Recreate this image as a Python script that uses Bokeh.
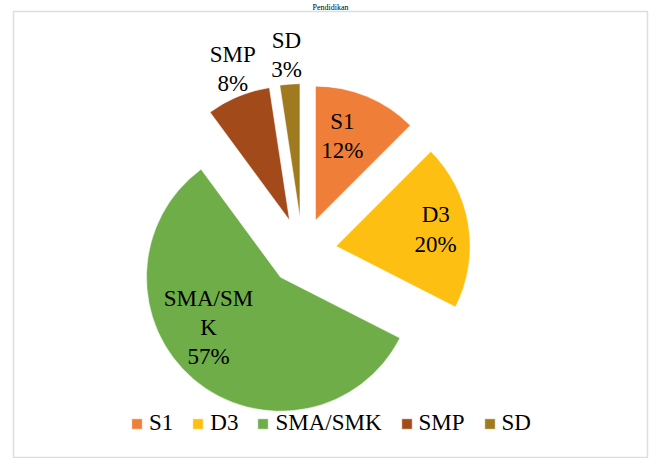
import math
from bokeh.plotting import figure
from bokeh.models import ColumnDataSource, Range1d
from bokeh.core.properties import value
from bokeh.embed import file_html
from bokeh.resources import INLINE

# ---- data ----
title_text = "Pendidikan"
categories = ["S1", "D3", "SMA/SMK", "SMP", "SD"]
shares = [12.5, 20.0, 57.4, 7.7, 2.4]          # slice sizes (%)
pct_labels = ["12%", "20%", "57%", "8%", "3%"]  # data labels as printed
slice_names = ["S1", "D3", "SMA/SM\nK", "SMP", "SD"]

# ---- styles / layout ----
colors = ["#EF7E38", "#FDC012", "#6EAD47", "#A34A1A", "#A07A1E"]
FONT = "Liberation Serif"
CX, CY = 302, 208      # pie centre (data units = px)
R = 134                # radius
EXPLODE = 34           # explosion distance
# label anchor: (clockwise angle from 12 o'clock, distance from slice apex)
label_polar = [(17.6, 89), (80.5, 101), (234.9, 88), (339.5, 162), (355.3, 164)]

total = sum(shares)
starts, ends, xs, ys, lx, ly, texts = [], [], [], [], [], [], []
acc = 0.0
for i, s in enumerate(shares):
    a1 = acc / total * 360.0
    acc += s
    a2 = acc / total * 360.0
    mid = math.radians((a1 + a2) / 2)
    ax = CX + EXPLODE * math.sin(mid)
    ay = CY + EXPLODE * math.cos(mid)
    xs.append(ax)
    ys.append(ay)
    starts.append(math.radians(90 - a2))
    ends.append(math.radians(90 - a1))
    la, ld = label_polar[i]
    lx.append(ax + ld * math.sin(math.radians(la)))
    ly.append(ay + ld * math.cos(math.radians(la)))
    texts.append(slice_names[i] + "\n" + pct_labels[i])

src = ColumnDataSource(dict(cat=categories, x=xs, y=ys, start=starts, end=ends, color=colors))
lsrc = ColumnDataSource(dict(x=lx, y=ly, text=texts))

p = figure(width=649, height=458, output_backend="svg", toolbar_location=None,
           x_axis_location=None, y_axis_location=None,
           x_range=Range1d(13, 647), y_range=Range1d(0, 449),
           min_border_left=13, min_border_right=2, min_border_top=0, min_border_bottom=0)
p.grid.visible = False
p.outline_line_color = "#D9DEE5"
p.outline_line_width = 1.5
p.background_fill_color = "white"
p.border_fill_color = "white"

# chart title: in the reference it sits almost entirely above the crop; kept small in the top strip
p.title.text = title_text
p.title.align = "center"
p.title.text_font = FONT
p.title.text_font_size = "8px"
p.title.text_font_style = "normal"
p.title.text_color = "#000000"
p.title.standoff = 0
p.title.offset = 0

p.wedge(x="x", y="y", radius=R, start_angle="start", end_angle="end",
        fill_color="color", line_color="white", line_width=0.5, source=src,
        legend_field="cat")

p.text(x="x", y="y", text="text", source=lsrc, text_align="center",
       text_baseline="middle", text_font=value(FONT), text_font_size="23px",
       text_color="#000000", text_line_height=1.17)

leg = p.legend[0]
leg.orientation = "horizontal"
leg.location = (117, 22)
leg.background_fill_alpha = 0
leg.border_line_color = None
leg.padding = 0
leg.margin = 0
leg.spacing = 18
leg.glyph_width = 13
leg.glyph_height = 13
leg.label_standoff = 6
leg.label_height = 20
leg.label_text_font = FONT
leg.label_text_font_size = "23px"
leg.label_text_color = "#000000"

open("out.html", "w").write(file_html(p, INLINE))
